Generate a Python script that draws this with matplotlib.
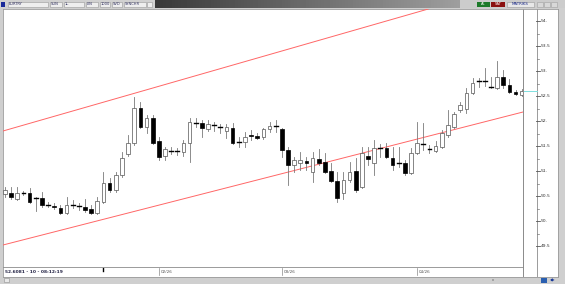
import numpy as np
import pandas as pd
import matplotlib
matplotlib.use('Agg')
import matplotlib.pyplot as plt
from matplotlib.patches import Rectangle

W, H = 565, 284

symbol = 'EURTRY'
dates = pd.bdate_range('2025-12-29', periods=85)

opens = [50.54, 50.56, 50.44, 50.56, 50.56, 50.46, 50.46, 50.32, 50.30, 50.26,
         50.16, 50.32, 50.30, 50.28, 50.24, 50.16, 50.38, 50.76, 50.62, 50.92,
         51.34, 51.56, 52.26, 51.88, 52.06, 51.60, 51.30, 51.40, 51.40, 51.38,
         51.56, 51.96, 51.96, 51.84, 51.92, 51.88, 51.80, 51.86, 51.58, 51.58,
         51.72, 51.70, 51.68, 51.84, 51.90, 51.84, 51.42, 51.12, 51.16, 51.20,
         50.98, 51.24, 51.18, 51.00, 50.80, 50.56, 50.82, 51.00, 50.68, 51.30,
         51.16, 51.46, 51.46, 51.26, 51.16, 51.16, 50.96, 51.36, 51.54, 51.44,
         51.40, 51.48, 51.72, 51.88, 52.22, 52.24, 52.56, 52.80, 52.80, 52.68,
         52.66, 52.88, 52.72, 52.58, 52.52]
highs = [50.68, 50.68, 50.68, 50.60, 50.66, 50.48, 50.58, 50.38, 50.36, 50.32,
         50.48, 50.42, 50.36, 50.44, 50.32, 50.48, 50.98, 50.86, 50.98, 51.38,
         51.72, 52.48, 52.38, 52.12, 52.12, 51.68, 51.48, 51.48, 51.46, 51.62,
         52.06, 52.06, 52.02, 52.02, 51.98, 51.94, 51.94, 51.96, 51.68, 51.78,
         51.82, 51.76, 51.86, 51.98, 52.02, 51.86, 51.48, 51.28, 51.38, 51.28,
         51.38, 51.44, 51.36, 51.16, 50.98, 50.98, 51.18, 51.26, 51.48, 51.48,
         51.62, 51.54, 51.56, 51.48, 51.48, 51.22, 51.46, 51.98, 51.96, 51.52,
         51.60, 51.82, 52.22, 52.18, 52.38, 52.66, 52.86, 52.86, 53.06, 52.88,
         53.20, 53.02, 52.84, 52.62, 52.64]
lows = [50.48, 50.44, 50.42, 50.52, 50.36, 50.20, 50.28, 50.28, 50.24, 50.14,
        50.14, 50.26, 50.22, 50.18, 50.14, 50.14, 50.36, 50.58, 50.58, 50.88,
        51.30, 51.52, 51.86, 51.76, 51.54, 51.22, 51.22, 51.34, 51.32, 51.30,
        51.18, 51.88, 51.68, 51.80, 51.80, 51.76, 51.66, 51.54, 51.48, 51.48,
        51.62, 51.64, 51.64, 51.78, 51.78, 51.28, 50.72, 50.98, 51.02, 51.02,
        50.78, 51.12, 50.96, 50.78, 50.38, 50.44, 50.78, 50.58, 50.66, 51.12,
        50.92, 51.28, 51.26, 51.02, 51.08, 50.92, 50.94, 51.34, 51.42, 51.36,
        51.38, 51.46, 51.68, 51.86, 52.18, 52.16, 52.54, 52.68, 52.70, 52.66,
        52.64, 52.66, 52.56, 52.52, 52.50]
closes = [50.62, 50.48, 50.56, 50.55, 50.38, 50.45, 50.32, 50.31, 50.28, 50.16,
          50.32, 50.31, 50.29, 50.22, 50.16, 50.40, 50.76, 50.62, 50.92, 51.26,
          51.56, 52.26, 51.88, 52.06, 51.56, 51.28, 51.44, 51.39, 51.41, 51.56,
          51.98, 51.95, 51.86, 51.94, 51.91, 51.87, 51.88, 51.56, 51.57, 51.68,
          51.70, 51.66, 51.84, 51.90, 51.89, 51.42, 51.12, 51.22, 51.22, 51.16,
          51.26, 51.16, 50.98, 50.80, 50.46, 50.82, 50.98, 50.62, 51.36, 51.24,
          51.46, 51.45, 51.28, 51.12, 51.15, 50.96, 51.36, 51.56, 51.53, 51.43,
          51.50, 51.76, 51.92, 52.14, 52.32, 52.56, 52.76, 52.79, 52.81, 52.67,
          52.88, 52.72, 52.58, 52.54, 52.6081]

# trend channel anchors (candle index, price)
upper_x = [-0.33, 68.8]
upper_y = [51.80, 54.24]
lower_x = [-0.33, 84.2]
lower_y = [49.52, 52.18]

last_price = 52.6081
price_ticks = [49.5, 50.0, 50.5, 51.0, 51.5, 52.0, 52.5, 53.0, 53.5, 54.0]
status_text = '52.6081 - 10 - 08:12:19'
toolbar_items = ['EURTRY', 'SUN', '1L', 'LIN', '1000', 'SVD', 'SYNCHR']


def fr(x0, y0, x1, y1):
    return [x0 / W, 1 - y1 / H, (x1 - x0) / W, (y1 - y0) / H]


fig = plt.figure(figsize=(W / 100, H / 100), dpi=100)
fig.patch.set_facecolor('#cfcfcf')

# title bar
tb = fig.add_axes(fr(0, 0, W, 8))
grad = np.concatenate([np.full(155, 0.82), np.linspace(0.22, 0.62, 305), np.full(105, 0.80)])
tb.imshow(np.tile(grad, (2, 1)), cmap='gray', vmin=0, vmax=1, aspect='auto',
          extent=[0, W, 8, 0])
tb.set_xlim(0, W)
tb.set_ylim(8, 0)
tb.axis('off')
box_x = [8, 50, 64, 86, 100, 112, 124]
box_w = [40, 12, 20, 12, 10, 10, 22]
for bx, bw, lab in zip(box_x, box_w, toolbar_items):
    tb.add_patch(Rectangle((bx, 1.5), bw, 5, facecolor='#eeeeee', edgecolor='#9a9a9a', lw=0.4))
    tb.text(bx + 1, 4.2, lab, fontsize=2.6, va='center', ha='left', color='#303060')
tb.add_patch(Rectangle((1, 1.5), 4, 5, facecolor='#1a2a9a', lw=0))
tb.add_patch(Rectangle((147, 1.5), 5, 5, facecolor='#eeeeee', edgecolor='#9a9a9a', lw=0.4))
tb.add_patch(Rectangle((477, 1.5), 13, 5, facecolor='#1d7a2a', lw=0))
tb.text(483.5, 4.2, 'AL', fontsize=2.6, va='center', ha='center', color='white')
tb.add_patch(Rectangle((491, 1.5), 14, 5, facecolor='#8a1010', lw=0))
tb.text(498, 4.2, 'SAT', fontsize=2.6, va='center', ha='center', color='white')
tb.add_patch(Rectangle((507, 1.5), 27, 5, facecolor='#e8e8e8', edgecolor='#9a9a9a', lw=0.4))
tb.text(520.5, 4.2, 'MATRIKS', fontsize=2.8, va='center', ha='center', color='#1a2a8a')
for sx in [537, 544, 551]:
    tb.add_patch(Rectangle((sx, 1.5), 6, 5, facecolor='#d8d8d8', edgecolor='#a0a0a0', lw=0.4))

# white chart panel
panel = fig.add_axes(fr(3, 9, 558, 277))
panel.set_facecolor('white')
panel.set_xlim(3, 558)
panel.set_ylim(277, 9)
panel.set_xticks([])
panel.set_yticks([])
for s in panel.spines.values():
    s.set_color('#9a9a9a')
    s.set_linewidth(0.6)
panel.plot([523, 523], [9, 277], color='#8a8a8a', lw=0.7)
panel.plot([537, 537], [9, 277], color='#8a8a8a', lw=0.6)

ax = fig.add_axes(fr(3, 9, 523, 267))
ax.patch.set_alpha(0)
ax.set_xlim(-0.33, 84.2)
ax.set_ylim(49.08, 54.24)
ax.set_xticks([])
ax.set_yticks([])
for side in ['top', 'left', 'right']:
    ax.spines[side].set_visible(False)
ax.spines['bottom'].set_color('#8a8a8a')
ax.spines['bottom'].set_linewidth(0.6)

ax.plot(upper_x, upper_y, color='#ff6666', lw=0.7, clip_on=True)
ax.plot(lower_x, lower_y, color='#ff6666', lw=0.7, clip_on=True)

for i, (o, h, l, c) in enumerate(zip(opens, highs, lows, closes)):
    ax.plot([i, i], [l, h], color='#7a7a7a', lw=0.6, zorder=2)
    if abs(c - o) < 0.015:
        ax.plot([i - 0.32, i + 0.32], [o, o], color='black', lw=1.0, zorder=3)
    elif c > o:
        ax.add_patch(Rectangle((i - 0.3, o), 0.6, c - o, facecolor='white',
                               edgecolor='#555555', lw=0.5, zorder=3))
    else:
        ax.add_patch(Rectangle((i - 0.3, c), 0.6, o - c, facecolor='black',
                               edgecolor='black', lw=0.5, zorder=3))

# last price marker
ax.plot([len(closes) - 1 + 0.4, 86.5], [last_price, last_price], color='#7fe0e0',
        lw=0.7, clip_on=False, zorder=4)

# price scale
pa = fig.add_axes(fr(523, 9, 558, 267))
pa.patch.set_alpha(0)
pa.set_xlim(0, 35)
pa.set_ylim(49.08, 54.24)
pa.axis('off')
for p in price_ticks:
    pa.plot([13, 17], [p, p], color='#555555', lw=0.6)
    lab = ('%g' % p) + ('.' if p == int(p) else '')
    pa.text(18, p, lab, fontsize=3.2, va='center', ha='left', color='#333333')
    if p < 54.0:
        pa.plot([14, 15.5], [p + 0.25, p + 0.25], color='#777777', lw=0.5)

# date scale: month starts labelled mm/yy
for i, d in enumerate(dates):
    if i > 10 and d.month != dates[i - 1].month:
        ax.plot([i, i], [49.06, 48.92], color='#8a8a8a', lw=0.5, clip_on=False)
        ax.text(i + 0.25, 48.98, d.strftime('%m/%y'), fontsize=3.0, va='center',
                ha='left', color='#555555', clip_on=False)
ax.plot([16, 16], [49.06, 49.0], color='black', lw=1.0, clip_on=False)
ax.text(0.0, 48.98, status_text, fontsize=3.2, va='center', ha='left',
        color='#222244', fontweight='bold', clip_on=False)

# status bar widgets
sb = fig.add_axes(fr(0, 277, W, H))
sb.set_xlim(0, W)
sb.set_ylim(7, 0)
sb.axis('off')
sb.add_patch(Rectangle((4, 1), 5, 4, facecolor='#e8e8e8', edgecolor='#909090', lw=0.4))
sb.add_patch(Rectangle((541, 0.5), 6, 5.5, facecolor='#2a5fb0', lw=0))
sb.text(553, 3, '\u25c0\u25b6', fontsize=2.6, va='center', ha='center', color='#1a3a9a')
sb.text(493, 3, 'ııı', fontsize=2.6, va='center', ha='center', color='#555555')

fig.savefig('out.png', dpi=100, facecolor=fig.get_facecolor())
